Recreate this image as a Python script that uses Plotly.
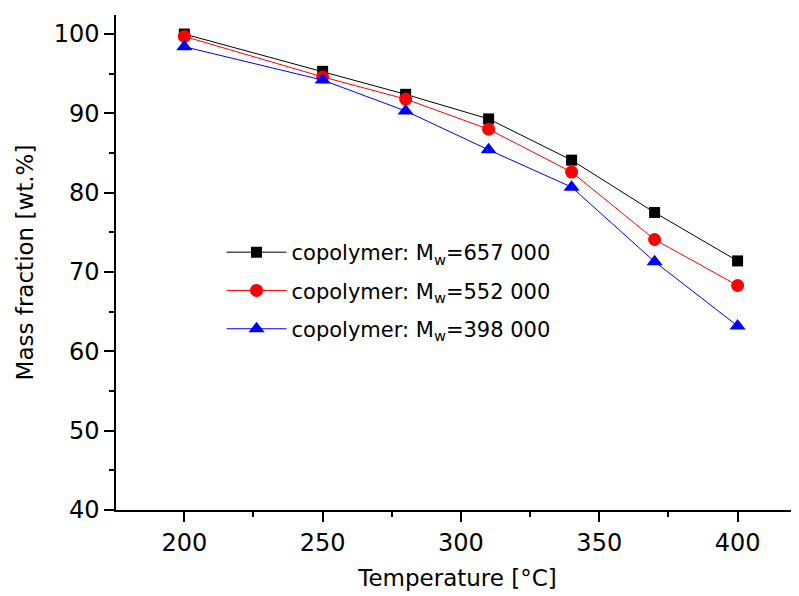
import plotly.graph_objects as go

temperature = [200, 250, 280, 310, 340, 370, 400]
mw_657000 = [100.0, 95.3, 92.4, 89.3, 84.1, 77.5, 71.4]
mw_552000 = [99.7, 94.6, 91.8, 88.0, 82.6, 74.1, 68.3]
mw_398000 = [98.4, 94.2, 90.3, 85.4, 80.7, 71.3, 63.2]

series = [
    ("copolymer: M<sub>w</sub>=657 000", mw_657000, "black", "square", 11),
    ("copolymer: M<sub>w</sub>=552 000", mw_552000, "red", "circle", 13),
    ("copolymer: M<sub>w</sub>=398 000", mw_398000, "blue", "triangle-up", 14),
]

fig = go.Figure()
for i, (name, vals, color, sym, size) in enumerate(series):
    fig.add_trace(go.Scatter(
        x=temperature, y=vals, name=name, mode="lines+markers",
        line=dict(color=color, width=1),
        marker=dict(color=color, symbol=sym, size=size),
        legendgroup=str(i),
    ))

font_family = "DejaVu Sans, Liberation Sans, Arial, sans-serif"
fig.update_layout(
    width=791, height=588,
    margin=dict(l=108, r=0, t=7, b=86),
    plot_bgcolor="white", paper_bgcolor="white",
    font=dict(family=font_family, color="black", size=23),
    showlegend=True,
    legend=dict(
        x=0.1545, y=0.5616, xanchor="left", yanchor="top",
        font=dict(size=21, family=font_family),
        bgcolor="rgba(0,0,0,0)",
        traceorder="grouped", tracegroupgap=8,
        itemwidth=60,
    ),
    xaxis=dict(
        range=[175.3, 422.2], showgrid=False, zeroline=False,
        showline=True, linecolor="black", linewidth=1.5,
        ticks="outside", ticklen=10, tickwidth=1.5, tickcolor="black",
        tickvals=[200, 250, 300, 350, 400],
        minor=dict(ticks="outside", ticklen=5, tickwidth=1.5, tickcolor="black", dtick=25, tick0=0),
        tickfont=dict(size=24),
        title=dict(text="Temperature [°C]", font=dict(size=23), standoff=14),
    ),
    yaxis=dict(
        range=[40, 102.4], showgrid=False, zeroline=False,
        showline=True, linecolor="black", linewidth=1.5,
        ticks="outside", ticklen=10, tickwidth=1.5, tickcolor="black",
        tickvals=[40, 50, 60, 70, 80, 90, 100],
        minor=dict(ticks="outside", ticklen=5, tickwidth=1.5, tickcolor="black", dtick=5, tick0=0),
        tickfont=dict(size=24),
        title=dict(text="Mass fraction [wt.%]", font=dict(size=23), standoff=14),
    ),
)

fig.write_html("out.html")
